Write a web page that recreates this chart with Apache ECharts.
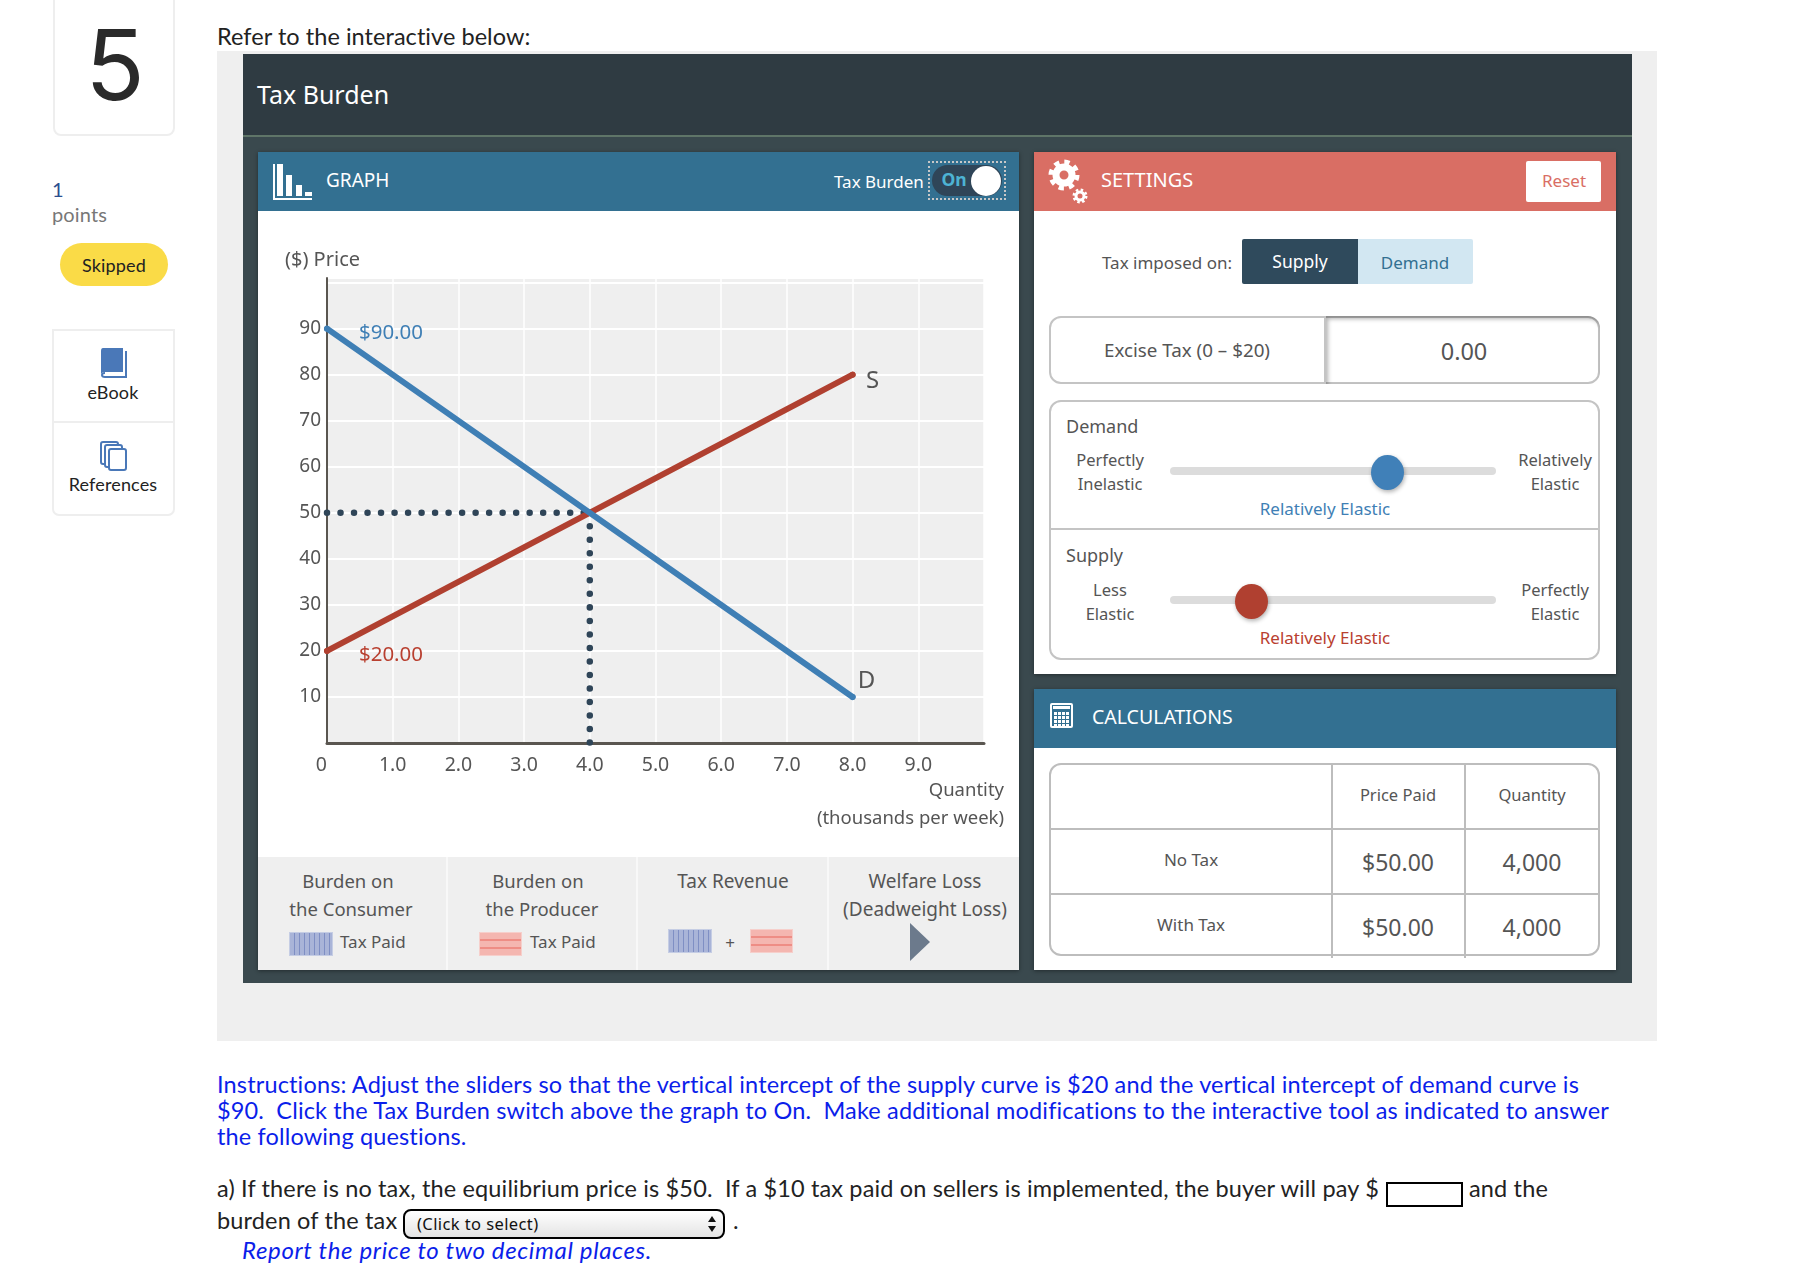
<!DOCTYPE html>
<html>
<head>
<meta charset="utf-8">
<title>Tax Burden</title>
<script src="https://cdn.jsdelivr.net/npm/echarts@6/dist/echarts.min.js"></script>
<style>
html, body { margin: 0; padding: 0; background: #fff; }
#page { position: relative; width: 1812px; height: 1276px; overflow: hidden; font-family: "Noto Sans", sans-serif; color: #555; }
.box { position: absolute; box-sizing: border-box; }
.txt { position: absolute; white-space: nowrap; line-height: 1; }
.q { font-family: Lato, sans-serif; letter-spacing: .15px; }
#chart { position: absolute; left: 258px; top: 211px; width: 761px; height: 646px; }
</style>
</head>
<body>
<div id="page"></div>
<script>
// chart values
var demandLine = [[0, 90], [8, 10]];
var supplyLine = [[0, 20], [8, 80]];
var priceGuide = [[0, 50], [4, 50]];
var quantityGuide = [[4, 50], [4, 0]];
var xTicks = ["0", "1.0", "2.0", "3.0", "4.0", "5.0", "6.0", "7.0", "8.0", "9.0", ""];
var yTicks = ["", "10", "20", "30", "40", "50", "60", "70", "80", "90", ""];
var demandLabels = ["$90.00", "D"];
var supplyLabels = ["$20.00", "S"];

// calculations table
var tableColumns = ["Price Paid", "Quantity"];
var tableRows = ["No Tax", "With Tax"];
var pricePaid = ["$50.00", "$50.00"];
var quantityPaid = ["4,000", "4,000"];

var page = document.getElementById("page");

function box(x, y, w, h, style) {
	var d = document.createElement("div");
	d.className = "box";
	d.style.cssText = "left:" + x + "px;top:" + y + "px;width:" + w + "px;height:" + h + "px;" + (style || "");
	page.appendChild(d);
	return d;
}

// anchor "l" = x is the left edge, "c" = x is the centre; y is always the vertical centre
function txt(s, x, y, size, color, anchor, extra, cls) {
	var d = document.createElement("div");
	d.className = "txt " + (cls || "");
	d.textContent = s;
	var tx = anchor == "c" ? "-50%" : "0";
	d.style.cssText = "left:" + x + "px;top:" + y + "px;font-size:" + size + "px;color:" + color + ";transform:translate(" + tx + ",-50%);" + (extra || "");
	page.appendChild(d);
	return d;
}

function svg(x, y, w, h, inner) {
	var d = box(x, y, w, h);
	d.innerHTML = '<svg width="' + w + '" height="' + h + '" viewBox="0 0 ' + w + ' ' + h + '">' + inner + '</svg>';
	return d;
}

// left column
box(53, -10, 122, 146, "border:2px solid #eee;border-radius:8px;");
txt("5", 115, 65, 98, "#2a2a2a", "c", "font-family:Inter,sans-serif;");
txt("1", 52, 189, 20, "#2b4f8f", "l", "", "q");
txt("points", 52, 214, 20, "#777", "l", "", "q");
box(60, 243, 108, 43, "background:#fadb47;border-radius:22px;");
txt("Skipped", 114, 265, 18, "#222", "c", "", "q");
box(52, 329, 123, 187, "border:2px solid #eee;border-radius:0 0 7px 7px;");
box(52, 421, 123, 2, "background:#eee;");
svg(100, 348, 28, 31, '<path d="M3 0H23V24H5Q1 24 1 27V3Q1 0 3 0Z" fill="#4a78b8"/><path d="M25 3H27V30H5Q1 30 1 27Q1 24 5 24V26Q3 26 3 27Q3 28 5 28H25Z" fill="#4a78b8"/>');
txt("eBook", 113, 392, 18, "#222", "c", "", "q");
svg(100, 441, 28, 30, '<g fill="#fff" stroke="#4a78b8" stroke-width="2"><rect x="1" y="1" width="17" height="22" rx="2"/><rect x="5" y="4" width="17" height="22" rx="2"/><rect x="9" y="8" width="17" height="21" rx="2"/></g>');
txt("References", 113, 484, 18, "#222", "c", "", "q");

// question area
txt("Refer to the interactive below:", 217, 37, 23.5, "#222", "l", "letter-spacing:.05px;", "q");
box(217, 51, 1440, 990, "background:#efefef;");
box(243, 54, 1389, 929, "background:#3a494e;");
box(243, 54, 1389, 81, "background:#2f3b42;");
box(243, 135, 1389, 2, "background:#5f7568;");
txt("Tax Burden", 257, 94, 25, "#fff", "l");

// graph panel
box(258, 152, 761, 818, "background:#fff;box-shadow:0 1px 4px rgba(0,0,0,.4);");
box(258, 152, 761, 59, "background:#337091;");
svg(273, 164, 40, 37, '<g fill="#fff"><rect x="0" y="0" width="2" height="36"/><rect x="0" y="34" width="39" height="2"/><rect x="4" y="0" width="6" height="32"/><rect x="13" y="11" width="6" height="21"/><rect x="23" y="21" width="6" height="11"/><rect x="32" y="28" width="7" height="4"/></g>');
txt("GRAPH", 326, 180, 19, "#fff", "l");
txt("Tax Burden", 834, 181, 17, "#fff", "l");
box(928, 161, 78, 39, "border:2px dotted #c8c8c8;");
box(932, 165, 70, 31, "background:#2f4558;border-radius:16px;");
box(971, 166, 30, 30, "background:#fff;border-radius:50%;");
txt("On", 954, 180, 17.5, "#4db3d4", "c", "font-weight:700;");

var chartDiv = document.createElement("div");
chartDiv.id = "chart";
page.appendChild(chartDiv);

// burden legend strip
box(258, 857, 761, 113, "background:#efefef;");
box(446, 857, 2, 113, "background:#f8f8f8;");
box(636, 857, 2, 113, "background:#f8f8f8;");
box(827, 857, 2, 113, "background:#f8f8f8;");
var blueFill = "background:#a9b4d8 repeating-linear-gradient(90deg,#a9b4d8 0,#a9b4d8 4px,#7f8fc4 4px,#7f8fc4 5px);border:1px solid #c5cde4;";
var redFill = "background:#f4b6b0 repeating-linear-gradient(180deg,#f4b6b0 0,#f4b6b0 6px,#ee8d85 6px,#ee8d85 8px);border:1px solid #f6cfcb;";
txt("Burden on", 348, 881, 18.5, "#555", "c");
txt("the Consumer", 351, 909, 18.5, "#555", "c");
box(289, 932, 44, 24, blueFill);
txt("Tax Paid", 340, 941, 17, "#555", "l");
txt("Burden on", 538, 881, 18.5, "#555", "c");
txt("the Producer", 542, 909, 18.5, "#555", "c");
box(479, 932, 43, 24, redFill);
txt("Tax Paid", 530, 941, 17, "#555", "l");
txt("Tax Revenue", 733, 881, 19, "#555", "c");
box(668, 929, 44, 24, blueFill);
txt("+", 730, 942, 17, "#555", "c");
box(750, 929, 43, 24, redFill);
txt("Welfare Loss", 925, 881, 19, "#555", "c");
txt("(Deadweight Loss)", 925, 909, 19, "#555", "c");
svg(910, 923, 20, 38, '<path d="M0 0L20 19L0 38Z" fill="#6c7a8c"/>');

// settings panel
box(1034, 152, 582, 522, "background:#fff;box-shadow:0 1px 4px rgba(0,0,0,.4);");
box(1034, 152, 582, 59, "background:#d96e64;");
svg(1048, 157, 44, 50, '<g fill="none" stroke="#fff"><circle cx="16" cy="18" r="8" stroke-width="7"/><circle cx="16" cy="18" r="13" stroke-width="5" stroke-dasharray="5.2 5"/><circle cx="32" cy="39" r="4" stroke-width="3"/><circle cx="32" cy="39" r="6" stroke-width="3" stroke-dasharray="2.4 2.3"/></g>');
txt("SETTINGS", 1101, 180, 20, "#fff", "l");
box(1526, 161, 75, 41, "background:#fff;border-radius:2px;");
txt("Reset", 1564, 180, 17, "#d96e64", "c");
txt("Tax imposed on:", 1102, 262, 17, "#555", "l");
box(1242, 239, 116, 45, "background:#2f4a5c;border-radius:2px 0 0 2px;");
box(1358, 239, 115, 45, "background:#d2e7f2;border-radius:0 2px 2px 0;");
txt("Supply", 1300, 262, 17.5, "#fff", "c");
txt("Demand", 1415, 262, 17, "#337091", "c");

box(1049, 316, 551, 68, "border:2px solid #c4c4c4;border-radius:12px;");
box(1324, 316, 276, 68, "border-left:2px solid #c4c4c4;border-radius:0 12px 12px 0;box-shadow:inset 2px 3px 4px rgba(0,0,0,.3);");
txt("Excise Tax (0 \u2013 $20)", 1187, 350, 18.8, "#555", "c");
txt("0.00", 1464, 352, 23.5, "#555", "c");

box(1049, 400, 551, 260, "border:2px solid #c4c4c4;border-radius:12px;");
box(1049, 528, 551, 2, "background:#c4c4c4;");
txt("Demand", 1066, 426, 18, "#555", "l");
txt("Perfectly", 1110, 460, 16.5, "#555", "c");
txt("Inelastic", 1110, 484, 16.5, "#555", "c");
txt("Relatively", 1555, 460, 16.5, "#555", "c");
txt("Elastic", 1555, 484, 16.5, "#555", "c");
box(1170, 467, 326, 8, "background:#dcdcdc;border-radius:4px;");
box(1371, 455, 33, 35, "background:#4080b8;border-radius:50%;box-shadow:1px 2px 4px rgba(0,0,0,.3);");
txt("Relatively Elastic", 1325, 508, 17, "#3f7fb5", "c");
txt("Supply", 1066, 555, 18, "#555", "l");
txt("Less", 1110, 590, 16.5, "#555", "c");
txt("Elastic", 1110, 614, 16.5, "#555", "c");
txt("Perfectly", 1555, 590, 16.5, "#555", "c");
txt("Elastic", 1555, 614, 16.5, "#555", "c");
box(1170, 596, 326, 8, "background:#dcdcdc;border-radius:4px;");
box(1235, 584, 33, 35, "background:#b04030;border-radius:50%;box-shadow:1px 2px 4px rgba(0,0,0,.3);");
txt("Relatively Elastic", 1325, 637, 17, "#b94030", "c");

// calculations panel
box(1034, 689, 582, 281, "background:#fff;box-shadow:0 1px 4px rgba(0,0,0,.4);");
box(1034, 689, 582, 59, "background:#337091;");
var keys = "";
for (var r = 0; r < 4; r++) {
	for (var c = 0; c < 4; c++) {
		keys += '<rect x="' + (4 + c * 4) + '" y="' + (9 + r * 4) + '" width="3" height="3" fill="#fff"/>';
	}
}
svg(1050, 703, 24, 25, '<rect x="0" y="0" width="23" height="25" rx="2" fill="#fff"/><rect x="2" y="2" width="19" height="21" fill="#337091"/><rect x="3" y="3" width="17" height="3" fill="#fff"/>' + keys);
txt("CALCULATIONS", 1092, 717, 19.5, "#fff", "l");

box(1049, 763, 551, 193, "border:2px solid #bdbdbd;border-radius:12px;");
box(1049, 828, 551, 2, "background:#bdbdbd;");
box(1049, 893, 551, 2, "background:#bdbdbd;");
box(1331, 763, 2, 195, "background:#bdbdbd;");
box(1464, 763, 2, 195, "background:#bdbdbd;");
txt(tableColumns[0], 1398, 795, 16.5, "#555", "c");
txt(tableColumns[1], 1532, 795, 16.5, "#555", "c");
for (var i = 0; i < tableRows.length; i++) {
	var rowY = 859 + i * 65;
	txt(tableRows[i], 1191, rowY, 17, "#555", "c");
	txt(pricePaid[i], 1398, rowY + 3, 23, "#555", "c");
	txt(quantityPaid[i], 1532, rowY + 3, 23, "#555", "c");
}

// question text
var blue = "#0b1eea";
txt("Instructions: Adjust the sliders so that the vertical intercept of the supply curve is $20 and the vertical intercept of demand curve is", 217, 1085, 23.5, blue, "l", "", "q");
txt("$90.  Click the Tax Burden switch above the graph to On.  Make additional modifications to the interactive tool as indicated to answer", 217, 1111, 23.5, blue, "l", "white-space:pre;", "q");
txt("the following questions.", 217, 1137, 23.5, blue, "l", "", "q");
txt("a) If there is no tax, the equilibrium price is $50.  If a $10 tax paid on sellers is implemented, the buyer will pay $", 217, 1189, 23.5, "#222", "l", "white-space:pre;", "q");
box(1386, 1182, 77, 25, "border:2px solid #000;background:#fff;");
txt("and the", 1469, 1189, 23.5, "#222", "l", "", "q");
txt("burden of the tax", 217, 1221, 23.5, "#222", "l", "", "q");
box(403, 1209, 322, 30, "border:2px solid #000;border-radius:8px;background:linear-gradient(#fff,#e4e4e4);");
txt("(Click to select)", 417, 1224, 16.5, "#111", "l", "letter-spacing:.4px;", "");
svg(707, 1215, 10, 18, '<path d="M5 1L9 7H1Z M5 17L9 11H1Z" fill="#111"/>');
txt(".", 733, 1221, 23.5, "#222", "l", "", "q");
txt("Report the price to two decimal places.", 242, 1250, 24, blue, "l", "font-style:italic;letter-spacing:.65px;", "q");

// the graph
var chart = echarts.init(chartDiv);
var chartText = "#555";

function endLabel(text, color, size, dx, dy) {
	return {
		show: true,
		formatter: text,
		position: "inside",
		offset: [dx, dy],
		color: color,
		fontSize: size,
		fontFamily: "Noto Sans"
	};
}

var option = {
	animation: false,
	grid: { left: 69, right: 35, top: 67, bottom: 114, backgroundColor: "#efefef", show: true, borderWidth: 0, outerBoundsMode: "none" },
	xAxis: {
		type: "value",
		min: 0,
		max: 10,
		interval: 1,
		name: "Quantity\n(thousands per week)",
		nameLocation: "end",
		nameGap: 20,
		nameMoveOverlap: false,
		nameTextStyle: { color: chartText, fontSize: 18.5, fontFamily: "Noto Sans", align: "right", verticalAlign: "top", lineHeight: 28, padding: [34, 0, 0, 0] },
		axisLine: { onZero: false, lineStyle: { color: "#5a5650", width: 3 } },
		axisTick: { show: false },
		axisLabel: {
			color: chartText,
			fontSize: 19.5,
			fontFamily: "Noto Sans",
			margin: 12,
			alignMinLabel: "right",
			formatter: function(v) {
				return xTicks[v];
			}
		},
		splitLine: { show: true, lineStyle: { color: "#fff", width: 1.5 } }
	},
	yAxis: {
		type: "value",
		min: 0,
		max: 101,
		interval: 10,
		name: "($) Price",
		nameLocation: "end",
		nameGap: 8,
		nameMoveOverlap: false,
		nameTextStyle: { color: chartText, fontSize: 20, fontFamily: "Noto Sans", align: "center", verticalAlign: "bottom", padding: [0, 9, 0, 0] },
		axisLine: { onZero: false, lineStyle: { color: "#5a5650", width: 2 } },
		axisTick: { show: false },
		axisLabel: {
			color: chartText,
			fontSize: 19,
			fontFamily: "Noto Sans",
			margin: 6,
			formatter: function(v) {
				return yTicks[v / 10] || "";
			}
		},
		splitLine: { show: true, lineStyle: { color: "#fff", width: 2 } }
	},
	series: [{
		name: "price guide",
		type: "line",
		data: priceGuide,
		symbol: "none",
		silent: true,
		clip: false,
		lineStyle: { color: "#2f4558", width: 6.5, type: [0.01, 13.5], cap: "round" }
	}, {
		name: "quantity guide",
		type: "line",
		data: quantityGuide,
		symbol: "none",
		silent: true,
		clip: false,
		lineStyle: { color: "#2f4558", width: 6.5, type: [0.01, 13.5], cap: "round" }
	}, {
		name: "S",
		type: "line",
		symbol: "circle",
		symbolSize: 6,
		clip: false,
		itemStyle: { color: "#b04030" },
		lineStyle: { color: "#b04030", width: 6, cap: "round" },
		data: [
			{ value: supplyLine[0], label: endLabel(supplyLabels[0], "#b94030", 20.5, 64, 4) },
			{ value: supplyLine[1], label: endLabel(supplyLabels[1], chartText, 24, 20, 6) }
		]
	}, {
		name: "D",
		type: "line",
		symbol: "circle",
		symbolSize: 6,
		clip: false,
		itemStyle: { color: "#3f7fb5" },
		lineStyle: { color: "#3f7fb5", width: 6, cap: "round" },
		data: [
			{ value: demandLine[0], label: endLabel(demandLabels[0], "#3f7fb5", 20.5, 64, 5) },
			{ value: demandLine[1], label: endLabel(demandLabels[1], chartText, 24, 14, -16) }
		]
	}]
};

chart.setOption(option);
</script>
</body>
</html>
